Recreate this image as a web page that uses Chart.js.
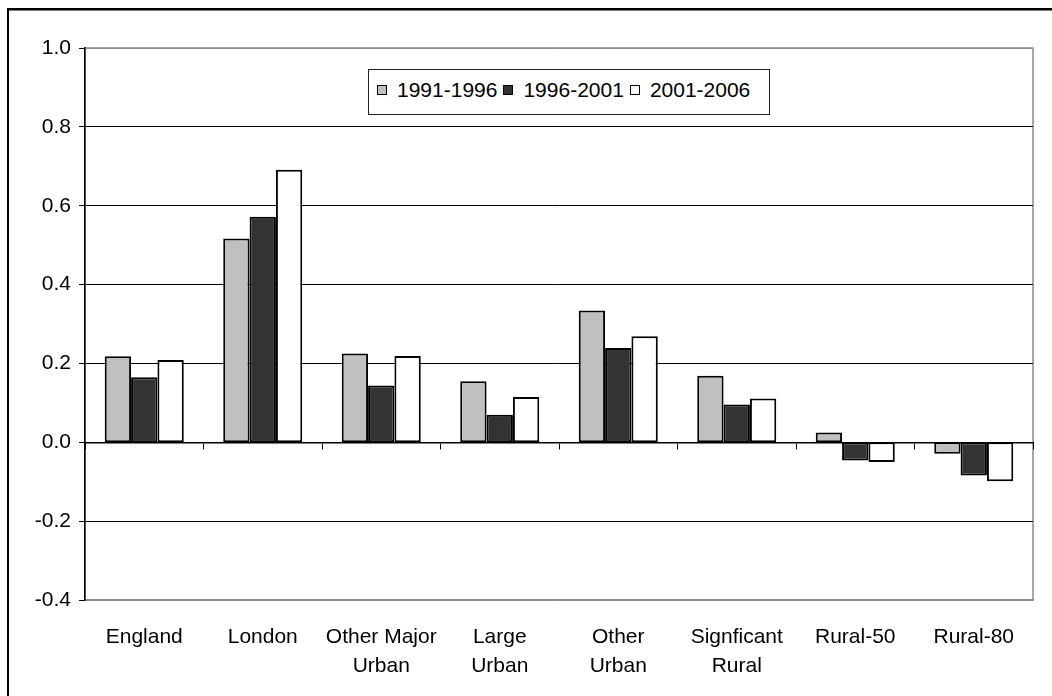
<!DOCTYPE html>
<html>
<head>
<meta charset="utf-8">
<script src="https://cdn.jsdelivr.net/npm/chart.js@4/dist/chart.umd.min.js"></script>
<style>
  body { margin: 0; background: #fff; }
  #wrap { position: relative; width: 1052px; height: 696px; }
  #legend {
    position: absolute; left: 368px; top: 69px; width: 400px; height: 40px;
    border: 1px solid #222; background: #fff;
    display: flex; align-items: center; padding-bottom: 4px; box-sizing: content-box;
    font-family: "Liberation Sans", Arial, sans-serif; font-size: 21px; color: #000;
  }
  #legend .sw { width: 8px; height: 8px; border: 1.5px solid #000; margin-left: 8px; margin-right: 10px; }
</style>
</head>
<body>
<div id="wrap">
  <canvas id="myChart" width="1052" height="696"></canvas>
  <div id="legend"></div>
</div>
<script>
// catégories (les libellés sur deux lignes sont des tableaux)
const categories = ['England', 'London', ['Other Major', 'Urban'], ['Large', 'Urban'],
                    ['Other', 'Urban'], ['Signficant', 'Rural'], 'Rural-50', 'Rural-80'];

// séries
const seriesNames = ['1991-1996', '1996-2001', '2001-2006'];
const s1991 = [0.218, 0.517, 0.225, 0.155, 0.334, 0.169, 0.025, -0.029];
const s1996 = [0.165, 0.572, 0.144, 0.070, 0.239, 0.096, -0.046, -0.084];
const s2001 = [0.209, 0.691, 0.219, 0.115, 0.269, 0.111, -0.050, -0.099];
const colors = ['#C0C0C0', '#333333', '#FFFFFF'];

// axe des y
const yMin = -0.4;
const yMax = 1.0;
const yStep = 0.2;

const font = "'Liberation Sans', Arial, sans-serif";
Chart.defaults.color = '#000';
Chart.defaults.font.family = font;

function makeDataset(i, values) {
    return {
        label: seriesNames[i],
        data: values,
        backgroundColor: colors[i],
        borderColor: '#000',
        borderWidth: 2,
        borderSkipped: false,
        categoryPercentage: 0.667,
        barPercentage: 1.0
    };
}

// cadre de la zone de tracé et cadre extérieur
const frames = {
    id: 'frames',
    beforeDraw(chart) {
        const {ctx, chartArea: a} = chart;
        ctx.save();
        ctx.strokeStyle = '#8c8c8c';
        ctx.lineWidth = 1.5;
        ctx.strokeRect(a.left, a.top, a.right - a.left, a.bottom - a.top);
        ctx.restore();
    },
    afterDraw(chart) {
        const ctx = chart.ctx;
        ctx.save();
        ctx.fillStyle = '#000';
        ctx.fillRect(7, 8, 1045, 2.5);
        ctx.fillRect(7, 8, 2, 688);
        ctx.restore();
    }
};

const ctx = document.getElementById('myChart').getContext('2d');
const myChart = new Chart(ctx, {
    type: 'bar',
    data: {
        labels: categories,
        datasets: [makeDataset(0, s1991), makeDataset(1, s1996), makeDataset(2, s2001)]
    },
    options: {
        responsive: false,
        animation: false,
        layout: { padding: { top: 48, right: 19, left: 0, bottom: 0 } },
        plugins: { legend: { display: false }, tooltip: { enabled: false } },
        scales: {
            x: {
                grid: { display: false },
                border: { display: true, color: '#8c8c8c', width: 1.5 },
                ticks: { font: { size: 21, lineHeight: 1.38 }, padding: 15, maxRotation: 0, autoSkip: false },
                afterFit: (s) => { s.height = 96; }
            },
            // axe secondaire sur la ligne zéro, pour les graduations
            x2: {
                type: 'category',
                labels: categories,
                offset: true,
                position: { y: 0 },
                grid: { offset: true, drawOnChartArea: false, drawTicks: true, tickLength: 6, color: '#000', lineWidth: 1 },
                border: { display: true, color: '#000', width: 1.5 },
                ticks: { display: false }
            },
            y: {
                min: yMin,
                max: yMax,
                ticks: {
                    stepSize: yStep,
                    font: { size: 21 },
                    padding: 8,
                    callback: (v) => (Math.abs(v) < 1e-9 ? 0 : v).toFixed(1)
                },
                grid: {
                    color: (c) => (Math.abs(c.tick.value - yMax) < 1e-6 || Math.abs(c.tick.value - yMin) < 1e-6) ? '#8c8c8c' : '#000',
                    tickColor: '#000',
                    tickLength: 6,
                    lineWidth: 1
                },
                border: { display: true, color: '#000', width: 1.5 },
                afterFit: (s) => { s.width = 85; }
            }
        }
    },
    plugins: [frames]
});

// légende
const legend = document.getElementById('legend');
seriesNames.forEach((name, i) => {
    const sw = document.createElement('div');
    sw.className = 'sw';
    sw.style.background = colors[i];
    if (i > 0) sw.style.marginLeft = '6px';
    const txt = document.createElement('span');
    txt.textContent = name;
    legend.appendChild(sw);
    legend.appendChild(txt);
});
</script>
</body>
</html>
